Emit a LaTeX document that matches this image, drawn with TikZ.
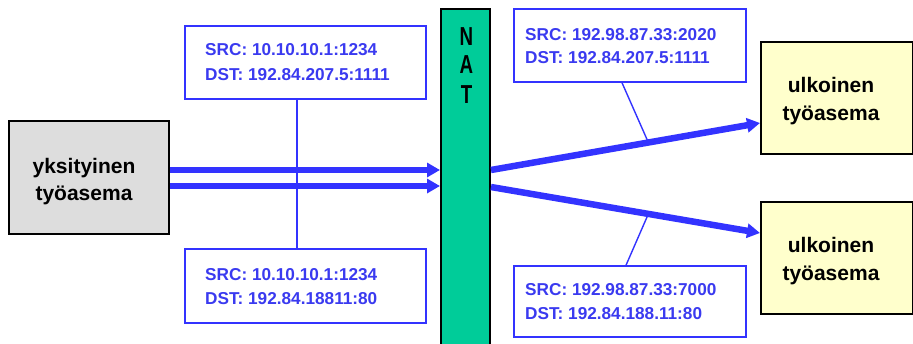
\documentclass[tikz,border=0pt]{standalone}
\usepackage{fontspec}
\setmainfont{Liberation Sans}
\usetikzlibrary{arrows.meta,calc}

\definecolor{flowblue}{RGB}{51,51,255}
\definecolor{labelblue}{RGB}{58,58,240}
\definecolor{natgreen}{RGB}{0,204,153}
\definecolor{hostgray}{RGB}{221,221,221}
\definecolor{hostyellow}{RGB}{255,255,204}

\tikzset{
  host/.style={draw=black, line width=2pt, minimum width=#1, inner sep=0pt},
  addrbox/.style={draw=flowblue, line width=1.5pt, fill=white, inner sep=0pt},
  addrtext/.style={text=labelblue, anchor=base west, inner sep=0pt,
    font=\bfseries\fontsize{17.2}{20}\selectfont},
  hosttext/.style={anchor=base, inner sep=0pt,
    font=\bfseries\fontsize{21}{25}\selectfont},
  nattext/.style={anchor=base, inner sep=0pt, xscale=0.72,
    font=\bfseries\fontsize{26}{30}\selectfont},
  flow/.style={draw=flowblue, line width=6.5pt,
    -{Triangle[length=13pt,width=14pt]}},
  callout/.style={draw=flowblue, line width=1.4pt},
}

\begin{document}
\begin{tikzpicture}[x=1pt, y=-1pt]
\useasboundingbox (0,0) rectangle (913,343);
\clip (0,0) rectangle (913,343);

% hosts
\node[host=160pt, minimum height=113pt, fill=hostgray] (priv) at (89,177.5) {};
\node[host=152pt, minimum height=112pt, fill=hostyellow] (ext1) at (837,98) {};
\node[host=152pt, minimum height=112pt, fill=hostyellow] (ext2) at (837,258) {};

% NAT bar
\node[host=49pt, minimum height=351pt, fill=natgreen] (nat) at (465.5,184.5) {};
\begin{scope}
  \clip (441,9) rectangle (472.3,120);
  \node[nattext] (natN) at (466.5,45) {N};
  \node[nattext] (natA) at (466.5,73) {A};
  \node[nattext] (natT) at (466.5,103) {T};
\end{scope}

% address boxes
\node[addrbox, minimum width=241pt, minimum height=73pt] (lbl1) at (305.5,62.5) {};
\node[addrbox, minimum width=241pt, minimum height=74pt] (lbl2) at (305.5,286) {};
\node[addrbox, minimum width=232pt, minimum height=73pt] (lbl3) at (630,45.5) {};
\node[addrbox, minimum width=232pt, minimum height=71pt] (lbl4) at (630,301.5) {};

% vertical stem joining the two left boxes (behind the flows)
\coordinate (stemtop) at ([xshift=-8.5pt]lbl1.south);
\coordinate (stembot) at ([xshift=-8.5pt]lbl2.north);
\draw[callout] (stemtop) -- (stembot);

% flows from the private host into NAT
\coordinate (p1) at (priv.east |- 0,170);
\coordinate (p2) at (priv.east |- 0,186);
\coordinate (n1) at (nat.west |- 0,170);
\coordinate (n2) at (nat.west |- 0,186);
\draw[flow] (p1) -- (n1);
\draw[flow] (p2) -- (n2);

% flows from NAT out to the external hosts
\coordinate (o1) at (nat.east |- 0,170);
\coordinate (o2) at (nat.east |- 0,187);
\coordinate (e1) at (ext1.west |- 0,123);
\coordinate (e2) at (ext2.west |- 0,233);
\coordinate (m1) at ($(o1)!0.585!(e1)$);
\coordinate (m2) at ($(o2)!0.585!(e2)$);
\draw[callout] ([xshift=-8pt]lbl3.south) -- (m1);
\draw[callout] ([xshift=-4pt]lbl4.north) -- (m2);
\draw[flow] (o1) -- (e1);
\draw[flow] (o2) -- (e2);

% host labels
\node[hosttext] (privA) at (84,173) {yksityinen};
\node[hosttext] (privB) at (84,200) {työasema};
\node[hosttext] (ext1A) at (831,92) {ulkoinen};
\node[hosttext] (ext1B) at (831,120) {työasema};
\node[hosttext] (ext2A) at (831,252) {ulkoinen};
\node[hosttext] (ext2B) at (831,280) {työasema};

% address texts
\node[addrtext] (lbl1a) at (205,55) {SRC: 10.10.10.1:1234};
\node[addrtext] (lbl1b) at (205,80) {DST: 192.84.207.5:1111};
\node[addrtext] (lbl2a) at (205,280) {SRC: 10.10.10.1:1234};
\node[addrtext] (lbl2b) at (205,304) {DST: 192.84.18811:80};
\node[addrtext] (lbl3a) at (525,40) {SRC: 192.98.87.33:2020};
\node[addrtext] (lbl3b) at (525,63) {DST: 192.84.207.5:1111};
\node[addrtext] (lbl4a) at (525,295) {SRC: 192.98.87.33:7000};
\node[addrtext] (lbl4b) at (525,319) {DST: 192.84.188.11:80};
\end{tikzpicture}
\end{document}
